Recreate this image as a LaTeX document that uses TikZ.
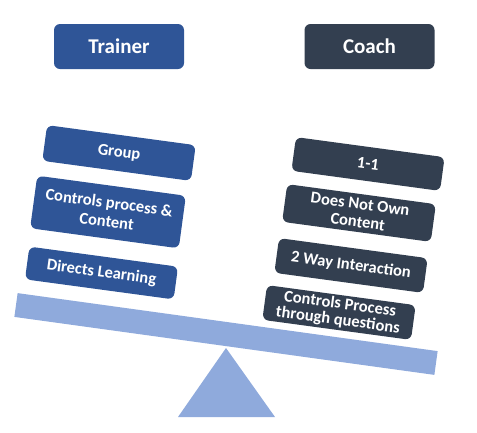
\documentclass[tikz,border=0pt]{standalone}
\usepackage{fontspec}
\setmainfont{Carlito}
\definecolor{trainerblue}{HTML}{2F5597}
\definecolor{coachgray}{HTML}{333F50}
\definecolor{beamblue}{HTML}{8FAADC}
\begin{document}
\begin{tikzpicture}[x=1pt,y=-1pt,
  head/.style={rounded corners=6pt, minimum width=130pt, minimum height=45pt, inner sep=0pt,
    text=white, font=\fontsize{21}{24}\selectfont\bfseries},
  item/.style={rounded corners=6pt, minimum width=150pt, inner sep=0pt, rotate=-7.7,
    text=white, align=center, font=\fontsize{16.5}{18}\selectfont\bfseries},
  tbox/.style={item, fill=trainerblue},
  cbox/.style={item, fill=coachgray}]
\useasboundingbox (0,0) rectangle (477,432);
% headers
\node[head, fill=trainerblue] (trainer) at (119,46.5) {Trainer};
\node[head, fill=coachgray] (coach) at (369.5,46.5) {Coach};
% fulcrum
\coordinate (apex) at (226,348);
\coordinate (bl) at (178,417);
\coordinate (br) at (275,417);
\fill[beamblue] (apex) -- (br) -- (bl) -- cycle;
% beam
\node[fill=beamblue, minimum width=424pt, minimum height=24pt, inner sep=0pt, rotate=-7.86] (beam) at (226,334) {};
% trainer items
\node[tbox, minimum height=36pt] (group) at (119,153) {Group};
\node[tbox, minimum height=53pt, font=\fontsize{16.5}{19}\selectfont\bfseries] (controls) at (108,212) {Controls process \&\\Content};
\node[tbox, minimum height=33pt] (directs) at (101.5,273) {Directs Learning};
% coach items
\node[cbox, minimum height=34pt] (one) at (368,164) {1-1};
\node[cbox, minimum height=38pt] (notown) at (359,213) {Does Not Own\\Content};
\node[cbox, minimum height=35pt] (twoway) at (351,265.5) {2 Way Interaction};
\node[cbox, minimum height=35pt, font=\fontsize{16.5}{16.5}\selectfont\bfseries] (process) at (339,312.5) {Controls Process\\through questions};
\end{tikzpicture}
\end{document}
